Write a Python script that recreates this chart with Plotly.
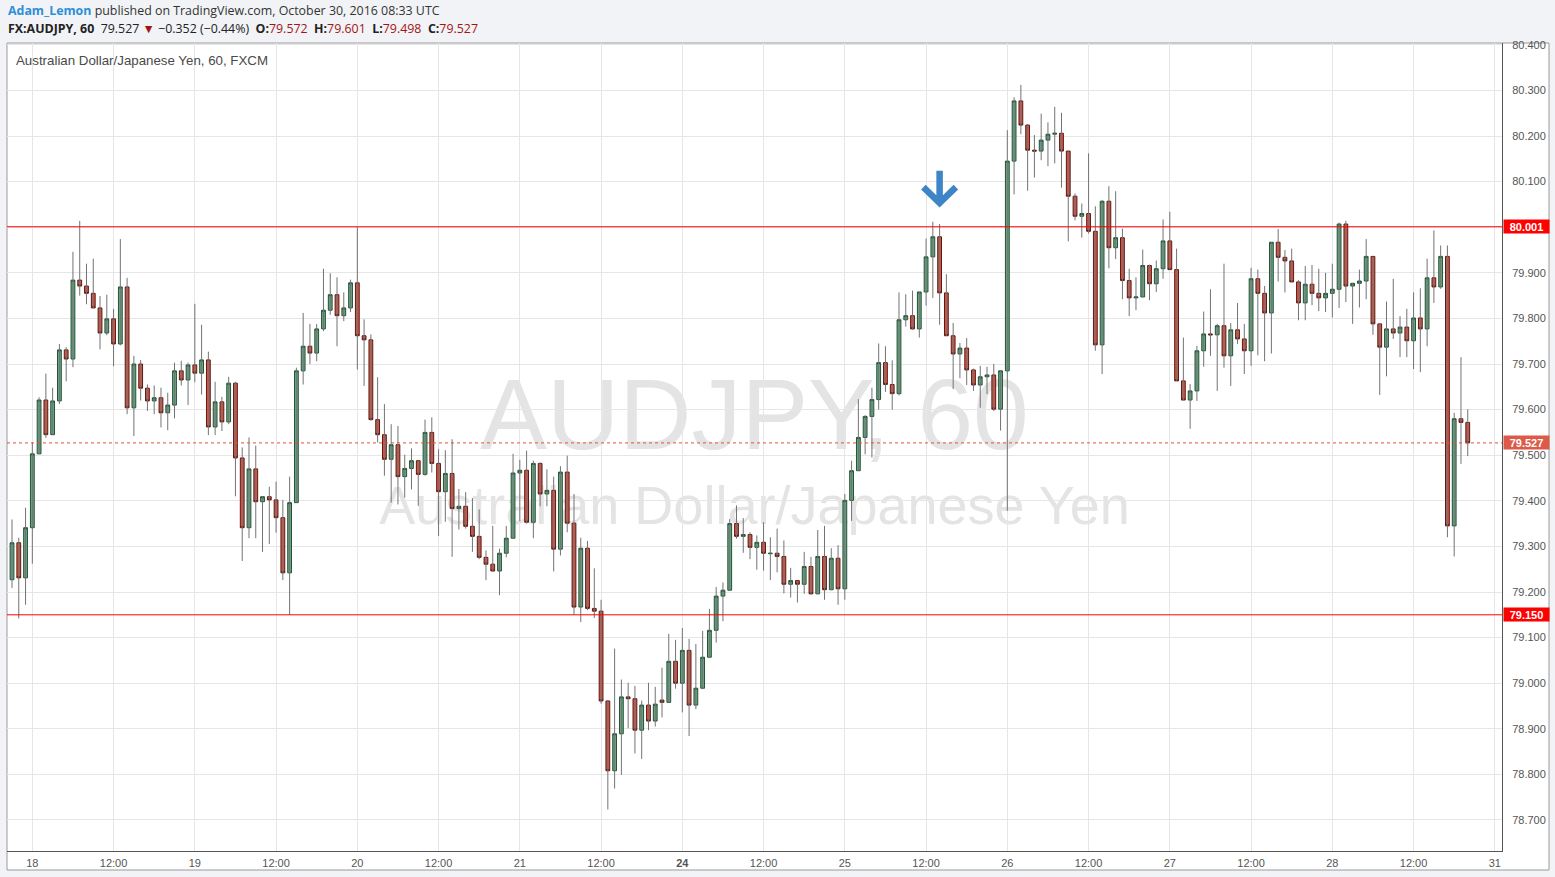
import plotly.graph_objects as go

# hourly bar index (0 = Oct 18 00:00), forex weekend removed
hours = list(range(-3, 213))

O = [79.227, 79.308, 79.231, 79.341, 79.503, 79.621, 79.545, 79.619, 79.731, 79.711,
     79.884, 79.871, 79.855, 79.823, 79.768, 79.799, 79.744, 79.869, 79.604, 79.700,
     79.647, 79.619, 79.626, 79.593, 79.610, 79.685, 79.665, 79.698, 79.680, 79.709,
     79.562, 79.617, 79.573, 79.658, 79.494, 79.341, 79.470, 79.398, 79.409, 79.402,
     79.363, 79.242, 79.396, 79.685, 79.739, 79.724, 79.777, 79.818, 79.852, 79.806,
     79.823, 79.878, 79.762, 79.753, 79.578, 79.545, 79.491, 79.523, 79.453, 79.471,
     79.488, 79.458, 79.550, 79.482, 79.420, 79.460, 79.383, 79.388, 79.344, 79.322,
     79.276, 79.261, 79.246, 79.285, 79.318, 79.461, 79.467, 79.353, 79.482, 79.415,
     79.423, 79.294, 79.463, 79.351, 79.167, 79.296, 79.164, 79.158, 78.961, 78.808,
     78.889, 78.970, 78.966, 78.897, 78.952, 78.917, 78.963, 78.958, 79.048, 79.000,
     79.072, 78.952, 78.989, 79.057, 79.116, 79.191, 79.204, 79.350, 79.322, 79.326,
     79.298, 79.309, 79.284, 79.285, 79.278, 79.217, 79.225, 79.217, 79.256, 79.196,
     79.278, 79.205, 79.274, 79.207, 79.401, 79.466, 79.539, 79.585, 79.622, 79.703,
     79.655, 79.635, 79.797, 79.806, 79.777, 79.858, 79.935, 79.979, 79.856, 79.762,
     79.722, 79.735, 79.687, 79.654, 79.672, 79.676, 79.601, 79.685, 80.145, 80.277,
     80.224, 80.169, 80.167, 80.191, 80.204, 80.206, 80.167, 80.068, 80.024, 80.030,
     79.991, 79.742, 80.057, 79.955, 79.977, 79.883, 79.845, 79.847, 79.916, 79.876,
     79.909, 79.970, 79.907, 79.663, 79.621, 79.641, 79.729, 79.766, 79.764, 79.784,
     79.718, 79.775, 79.755, 79.729, 79.887, 79.855, 79.812, 79.967, 79.934, 79.926,
     79.880, 79.834, 79.875, 79.855, 79.845, 79.855, 79.864, 80.007, 79.871, 79.877,
     79.882, 79.936, 79.788, 79.737, 79.777, 79.768, 79.781, 79.751, 79.801, 79.777,
     79.889, 79.869, 79.936, 79.345, 79.580, 79.572]

H = [79.359, 79.319, 79.385, 79.528, 79.627, 79.679, 79.648, 79.744, 79.737, 79.946,
     80.014, 79.920, 79.931, 79.849, 79.852, 79.821, 79.974, 79.889, 79.718, 79.709,
     79.655, 79.653, 79.648, 79.637, 79.703, 79.707, 79.703, 79.832, 79.786, 79.727,
     79.661, 79.628, 79.672, 79.661, 79.517, 79.539, 79.521, 79.410, 79.431, 79.442,
     79.402, 79.453, 79.692, 79.812, 79.788, 79.788, 79.909, 79.899, 79.890, 79.857,
     79.885, 80.000, 79.798, 79.765, 79.671, 79.612, 79.568, 79.564, 79.501, 79.515,
     79.490, 79.578, 79.583, 79.513, 79.511, 79.535, 79.426, 79.419, 79.406, 79.381,
     79.291, 79.345, 79.295, 79.345, 79.503, 79.490, 79.510, 79.488, 79.484, 79.469,
     79.453, 79.476, 79.499, 79.415, 79.319, 79.312, 79.252, 79.183, 78.963, 79.076,
     79.008, 79.001, 78.994, 78.962, 79.001, 78.992, 79.034, 79.108, 79.095, 79.121,
     79.097, 79.086, 79.115, 79.163, 79.211, 79.221, 79.360, 79.390, 79.362, 79.331,
     79.324, 79.353, 79.320, 79.339, 79.313, 79.253, 79.225, 79.288, 79.277, 79.336,
     79.345, 79.296, 79.303, 79.415, 79.488, 79.623, 79.588, 79.648, 79.745, 79.739,
     79.708, 79.857, 79.853, 79.861, 79.858, 79.975, 80.012, 80.007, 79.897, 79.790,
     79.746, 79.757, 79.690, 79.696, 79.694, 79.700, 79.685, 80.213, 80.285, 80.312,
     80.226, 80.202, 80.249, 80.230, 80.264, 80.251, 80.167, 80.074, 80.052, 80.162,
     80.046, 80.059, 80.090, 80.079, 79.997, 79.909, 79.890, 79.951, 79.918, 79.927,
     80.017, 80.034, 79.953, 79.758, 79.656, 79.740, 79.815, 79.864, 79.788, 79.920,
     79.790, 79.834, 79.788, 79.911, 79.907, 79.871, 79.967, 79.996, 79.950, 79.953,
     79.884, 79.915, 79.917, 79.909, 79.900, 79.920, 80.010, 80.014, 79.877, 79.907,
     79.974, 79.936, 79.790, 79.837, 79.887, 79.805, 79.821, 79.857, 79.866, 79.931,
     79.993, 79.960, 79.960, 79.593, 79.715, 79.601]

L = [79.209, 79.142, 79.172, 79.262, 79.503, 79.538, 79.545, 79.612, 79.662, 79.693,
     79.850, 79.831, 79.823, 79.732, 79.763, 79.695, 79.741, 79.590, 79.542, 79.620,
     79.597, 79.590, 79.561, 79.555, 79.581, 79.653, 79.610, 79.660, 79.633, 79.544,
     79.544, 79.553, 79.568, 79.410, 79.268, 79.318, 79.318, 79.288, 79.305, 79.330,
     79.226, 79.150, 79.396, 79.655, 79.700, 79.706, 79.772, 79.808, 79.739, 79.794,
     79.814, 79.688, 79.652, 79.576, 79.528, 79.455, 79.396, 79.392, 79.407, 79.425,
     79.389, 79.455, 79.462, 79.323, 79.354, 79.277, 79.337, 79.339, 79.288, 79.272,
     79.226, 79.246, 79.193, 79.276, 79.318, 79.355, 79.350, 79.318, 79.388, 79.388,
     79.245, 79.280, 79.331, 79.150, 79.134, 79.160, 79.143, 78.955, 78.723, 78.769,
     78.799, 78.901, 78.846, 78.834, 78.897, 78.905, 78.925, 78.958, 78.988, 78.936,
     78.884, 78.943, 78.987, 79.055, 79.089, 79.136, 79.204, 79.317, 79.286, 79.272,
     79.249, 79.247, 79.226, 79.243, 79.197, 79.188, 79.177, 79.196, 79.194, 79.196,
     79.183, 79.205, 79.172, 79.183, 79.356, 79.466, 79.502, 79.495, 79.600, 79.639,
     79.600, 79.631, 79.782, 79.775, 79.758, 79.828, 79.845, 79.786, 79.762, 79.645,
     79.669, 79.654, 79.641, 79.604, 79.634, 79.597, 79.554, 79.378, 80.072, 80.204,
     80.080, 80.109, 80.147, 80.134, 80.140, 80.087, 79.969, 80.015, 79.977, 79.986,
     79.729, 79.678, 79.910, 79.930, 79.842, 79.805, 79.818, 79.847, 79.840, 79.858,
     79.887, 79.907, 79.663, 79.621, 79.558, 79.619, 79.694, 79.718, 79.641, 79.692,
     79.652, 79.744, 79.678, 79.696, 79.719, 79.706, 79.723, 79.881, 79.857, 79.880,
     79.796, 79.796, 79.829, 79.816, 79.814, 79.802, 79.823, 79.836, 79.788, 79.824,
     79.842, 79.764, 79.632, 79.673, 79.755, 79.715, 79.715, 79.689, 79.682, 79.739,
     79.834, 79.865, 79.320, 79.278, 79.481, 79.498]

C = [79.308, 79.231, 79.341, 79.503, 79.621, 79.545, 79.619, 79.731, 79.711, 79.884,
     79.871, 79.855, 79.823, 79.768, 79.799, 79.744, 79.869, 79.604, 79.700, 79.647,
     79.619, 79.626, 79.593, 79.610, 79.685, 79.665, 79.698, 79.680, 79.709, 79.562,
     79.617, 79.573, 79.658, 79.494, 79.341, 79.470, 79.398, 79.409, 79.402, 79.363,
     79.242, 79.396, 79.685, 79.739, 79.724, 79.777, 79.818, 79.852, 79.806, 79.823,
     79.878, 79.762, 79.753, 79.578, 79.545, 79.491, 79.523, 79.453, 79.471, 79.488,
     79.458, 79.550, 79.482, 79.420, 79.460, 79.383, 79.388, 79.344, 79.322, 79.276,
     79.261, 79.246, 79.285, 79.318, 79.461, 79.467, 79.353, 79.482, 79.415, 79.423,
     79.294, 79.463, 79.351, 79.167, 79.296, 79.164, 79.158, 78.961, 78.808, 78.889,
     78.970, 78.966, 78.897, 78.952, 78.917, 78.954, 78.958, 79.048, 79.000, 79.072,
     78.952, 78.989, 79.057, 79.116, 79.191, 79.204, 79.350, 79.322, 79.326, 79.298,
     79.309, 79.285, 79.285, 79.278, 79.217, 79.225, 79.217, 79.256, 79.196, 79.278,
     79.205, 79.274, 79.207, 79.401, 79.466, 79.539, 79.585, 79.622, 79.703, 79.655,
     79.635, 79.797, 79.806, 79.777, 79.858, 79.935, 79.979, 79.856, 79.762, 79.722,
     79.735, 79.687, 79.654, 79.672, 79.676, 79.601, 79.685, 80.145, 80.277, 80.224,
     80.169, 80.167, 80.191, 80.204, 80.206, 80.167, 80.068, 80.024, 80.030, 79.991,
     79.742, 80.057, 79.955, 79.977, 79.883, 79.845, 79.847, 79.916, 79.876, 79.909,
     79.970, 79.907, 79.663, 79.621, 79.641, 79.729, 79.766, 79.764, 79.784, 79.718,
     79.775, 79.755, 79.729, 79.887, 79.855, 79.812, 79.967, 79.934, 79.926, 79.880,
     79.834, 79.875, 79.855, 79.845, 79.855, 79.864, 80.007, 79.871, 79.877, 79.882,
     79.936, 79.788, 79.737, 79.777, 79.768, 79.781, 79.751, 79.801, 79.777, 79.889,
     79.869, 79.936, 79.345, 79.580, 79.572, 79.527]

tick_pos = [0, 12, 24, 36, 48, 60, 72, 84, 96, 108, 120, 132, 144, 156, 168, 180, 192, 204, 216]
tick_text = ["18", "12:00", "19", "12:00", "20", "12:00", "21", "12:00", "<b>24</b>", "12:00",
             "25", "12:00", "26", "12:00", "27", "12:00", "28", "12:00", "31"]
price_ticks = [78.7, 78.8, 78.9, 79.0, 79.1, 79.2, 79.3, 79.4, 79.5, 79.6, 79.7, 79.8, 79.9,
               80.0, 80.1, 80.2, 80.3, 80.4]
levels = [80.001, 79.150]
last_price = C[-1]

W, Hpx = 1555, 877
ML, MR, MT, MB = 7, 53, 43, 26
PW, PH = W - ML - MR, Hpx - MT - MB


def px(xp):
    return (xp - ML) / PW


def py(yp):
    return (Hpx - MB - yp) / PH


# wicks
wx, wy = [], []
for x, hi, lo in zip(hours, H, L):
    wx += [x, x, None]
    wy += [lo, hi, None]

fig = go.Figure()
fig.add_trace(go.Scatter(x=wx, y=wy, mode="lines", line=dict(color="#737375", width=1),
                         hoverinfo="skip", showlegend=False))
fig.add_trace(go.Candlestick(
    x=hours, open=O, close=C,
    high=[max(a, b) for a, b in zip(O, C)], low=[min(a, b) for a, b in zip(O, C)],
    increasing=dict(fillcolor="#6ba583", line=dict(color="#225437", width=1)),
    decreasing=dict(fillcolor="#d75442", line=dict(color="#5b1a13", width=1)),
    whiskerwidth=0, showlegend=False))

shapes = [
    # pane background
    dict(type="rect", xref="paper", yref="paper", x0=px(7), x1=px(1549), y0=py(870), y1=py(43),
         fillcolor="white", line=dict(color="#9a9a9a", width=1), layer="below"),
    # watermark
    dict(type="rect", xref="paper", yref="paper", x0=0, x1=1, y0=py(465), y1=py(345),
         line=dict(width=0), fillcolor="rgba(0,0,0,0)", layer="below",
         label=dict(text="AUDJPY, 60", textposition="middle center",
                    font=dict(family="Liberation Sans, Arial", size=100, color="#e4e4e4"))),
    dict(type="rect", xref="paper", yref="paper", x0=0, x1=1, y0=py(532), y1=py(468),
         line=dict(width=0), fillcolor="rgba(0,0,0,0)", layer="below",
         label=dict(text="Australian Dollar/Japanese Yen", textposition="middle center",
                    font=dict(family="Liberation Sans, Arial", size=54, color="#e4e4e4"))),
]
for lv in levels:
    shapes.append(dict(type="line", xref="paper", x0=0, x1=1, yref="y", y0=lv, y1=lv,
                       line=dict(color="#ff0000", width=1)))
shapes.append(dict(type="line", xref="paper", x0=0, x1=1, yref="y", y0=last_price, y1=last_price,
                   line=dict(color="#e0533f", width=1, dash="dot")))
# blue arrow marker above the peak
shapes.append(dict(type="path", xref="x", yref="y",
                   path="M 134 80.124 L 134 80.056 M 131.6 80.088 L 134 80.053 L 136.4 80.088",
                   line=dict(color="#3d85c6", width=6.5)))

annotations = [
    dict(xref="paper", yref="paper", x=px(6), y=py(11), xanchor="left", yanchor="middle",
         showarrow=False, font=dict(family="Open Sans", size=12.4, color="#333333"),
         text='<span style="color:#2e8ed8"><b>Adam_Lemon</b></span> published on TradingView.com, October 30, 2016 08:33 UTC'),
    dict(xref="paper", yref="paper", x=px(6), y=py(29), xanchor="left", yanchor="middle",
         showarrow=False, font=dict(family="Open Sans", size=12.4, color="#222222"),
         text='<b>FX:AUDJPY, 60</b>  79.527 <span style="color:#a31515">▼</span> −0.352 (−0.44%)  '
              '<b>O:</b><span style="color:#a31515">79.572</span>  <b>H:</b><span style="color:#a31515">79.601</span>  '
              '<b>L:</b><span style="color:#a31515">79.498</span>  <b>C:</b><span style="color:#a31515">79.527</span>'),
    dict(xref="paper", yref="paper", x=px(14), y=py(60), xanchor="left", yanchor="middle",
         showarrow=False, font=dict(family="Liberation Sans, Arial", size=13.3, color="#4a4a4a"),
         text="Australian Dollar/Japanese Yen, 60, FXCM"),
]
for val, bg in [(levels[0], "#ff0000"), (levels[1], "#ff0000"), (last_price, "#dd5a48")]:
    annotations.append(dict(xref="paper", yref="y", x=1, y=val, xanchor="left", yanchor="middle",
                            xshift=1, showarrow=False, text="<b>%.3f</b>" % val, bgcolor=bg,
                            width=45, height=13, borderpad=0,
                            font=dict(family="Liberation Sans, Arial", size=11, color="white")))

fig.update_layout(
    width=W, height=Hpx, margin=dict(l=ML, r=MR, t=MT, b=MB),
    paper_bgcolor="#f1f3f6", plot_bgcolor="white",
    boxgap=0.3, boxgroupgap=0.2,
    shapes=shapes, annotations=annotations, showlegend=False,
    xaxis=dict(range=[-3.74, 217.06], tickvals=tick_pos, ticktext=tick_text,
               showgrid=True, gridcolor="#e6e6e6", zeroline=False, showline=True,
               linecolor="#555555", linewidth=1, ticks="", ticklabelstandoff=2,
               tickfont=dict(family="Liberation Sans, Arial", size=11, color="#555555"),
               rangeslider=dict(visible=False), fixedrange=True),
    yaxis=dict(side="right", range=[78.632, 80.404], tickvals=price_ticks, tickformat=".3f",
               showgrid=True, gridcolor="#e6e6e6", zeroline=False, showline=True,
               linecolor="#555555", linewidth=1, ticks="", ticklabelstandoff=7,
               tickfont=dict(family="Liberation Sans, Arial", size=11, color="#555555")),
)

fig.write_html("out.html", config={"displayModeBar": False},
               post_script="document.body.style.margin='0';")
